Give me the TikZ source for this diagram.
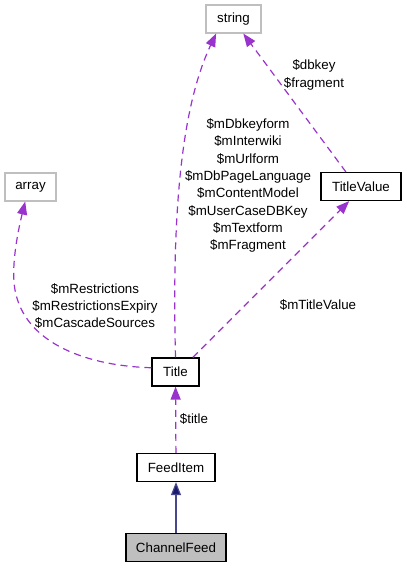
\documentclass[tikz,border=0pt]{standalone}
\usepackage{fontspec}
\setmainfont{Liberation Sans}
\usetikzlibrary{arrows.meta}
\definecolor{usecol}{HTML}{9A32CD}
\definecolor{inhcol}{HTML}{191970}
\definecolor{extcol}{HTML}{BFBFBF}
\begin{document}
\begin{tikzpicture}[x=1pt, y=-1pt,
  font=\fontsize{13.33}{17.3}\selectfont,
  box/.style={draw, line width=1.2pt, minimum height=28pt, inner sep=0pt},
  extbox/.style={box, draw=extcol},
  lbl/.style={align=center, inner sep=0pt},
  uses/.style={draw=usecol, line width=1.2pt, dash pattern=on 7pt off 5pt,
    -{Triangle[length=13pt, width=10pt, fill=usecol]}},
  inherits/.style={draw=inhcol!80, line width=1.2pt,
    -{Triangle[length=13pt, width=10pt, fill=inhcol]}}]
\useasboundingbox (0,0) rectangle (407,568);

\node[extbox, minimum width=55pt] (string) at (233.5,19) {string};
\node[extbox, minimum width=51pt] (array) at (30.5,187) {array};
\node[box, minimum width=80pt] (tv) at (361,186.5) {TitleValue};
\node[box, minimum width=47pt] (title) at (175.5,372) {Title};
\node[box, minimum width=78pt] (feeditem) at (176,467.5) {FeedItem};
\node[box, minimum width=100pt, fill=extcol] (channel) at (176,547.5) {ChannelFeed};

\draw[inherits] (channel) -- (feeditem);
\draw[uses] (feeditem) -- (title);
\draw[uses] (title.40) -- (tv.-129);
\draw[uses] (tv.136) -- (string.-56);
\draw[uses] (title.north) .. controls (172,220) and (180,110) .. (string.-140);
\draw[uses] (title.170) .. controls (90,366) and (25,345) .. (15,290)
  .. controls (11,268) and (17,235) .. (array.-110);

\node[lbl] (l1) at (194,419) {\$title};
\node[lbl] (l2) at (318,305) {\$mTitleValue};
\node[lbl] (l3) at (314,75) {\$dbkey\\\$fragment};
\node[lbl] (l4) at (95,306) {\$mRestrictions\\\$mRestrictionsExpiry\\\$mCascadeSources};
\node[lbl] (l5) at (248,185.5) {\$mDbkeyform\\\$mInterwiki\\\$mUrlform\\\$mDbPageLanguage\\\$mContentModel\\\$mUserCaseDBKey\\\$mTextform\\\$mFragment};
\end{tikzpicture}
\end{document}
